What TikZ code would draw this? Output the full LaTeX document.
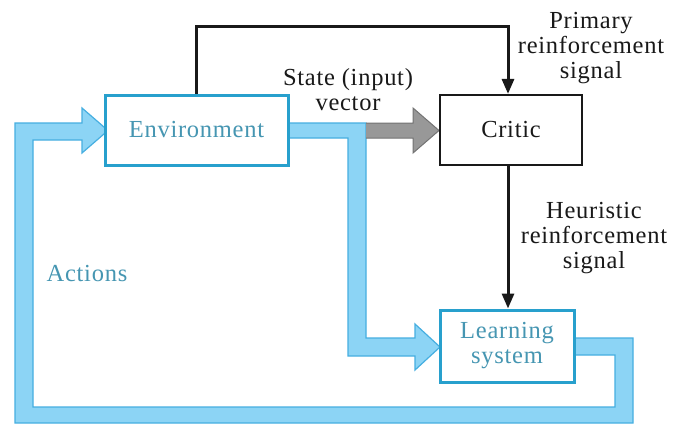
\documentclass[tikz,border=0pt]{standalone}
\usepackage{fontspec}
\setmainfont{Liberation Serif}[LetterSpace=3]
\usetikzlibrary{arrows.meta}
\definecolor{bandfill}{RGB}{140,212,245}
\definecolor{bandline}{RGB}{70,175,225}
\definecolor{boxline}{RGB}{40,160,205}
\definecolor{labelblue}{RGB}{70,150,178}
\definecolor{grayfill}{RGB}{152,152,152}
\definecolor{grayline}{RGB}{115,115,115}
\definecolor{inkblack}{RGB}{25,25,25}
\tikzset{
  txt/.style={font=\fontsize{24.5}{25}\selectfont, inner sep=0pt, align=center},
  bluebox/.style={draw=boxline, line width=3pt, fill=white, txt, text=labelblue},
  blackbox/.style={draw=inkblack, line width=2.2pt, fill=white, txt, text=inkblack},
  band/.style={fill=bandfill, draw=bandline, line width=1.2pt, line join=miter},
  grayband/.style={fill=grayfill, draw=grayline, line width=1pt, line join=miter},
  sig/.style={draw=inkblack, line width=3pt, -{Triangle[width=12pt,length=15pt]}},
}
\begin{document}
\begin{tikzpicture}[x=1pt,y=-1pt]
\useasboundingbox (0,0) rectangle (674,423);
\fill[white] (0,0) rectangle (674,423);

% action loop: learning system back to the environment
\path[band] (574,338) -- (633,338) -- (633,423) -- (15,423) -- (15,123)
  -- (82,123) -- (82,108) -- (108,130.5) -- (82,153) -- (82,140)
  -- (33,140) -- (33,407) -- (615,407) -- (615,355) -- (574,355) -- cycle;

% state vector fed to the learning system
\path[band] (288,123) -- (366,123) -- (366,338) -- (415,338) -- (415,324)
  -- (440,347) -- (415,370) -- (415,356) -- (348,356) -- (348,138)
  -- (288,138) -- cycle;

% state vector fed to the critic
\path[grayband] (366,123) -- (413,123) -- (413,108) -- (439,130.5)
  -- (413,153) -- (413,138) -- (366,138);
\fill[grayfill] (366.6,123.6) rectangle (370,137.4);

% blocks
\node[bluebox, minimum width=183pt, minimum height=70pt] (env) at (196.5,130) {Environment};
\node[blackbox, minimum width=142pt, minimum height=70pt] (crit) at (511,130) {Critic};
\node[bluebox, minimum width=134pt, minimum height=72pt] (learn) at (507,346) {Learning\\system};

% reinforcement signals
\draw[sig] (env.north) -- ++(0,-67) -| ([xshift=-3pt]crit.north);
\draw[sig] ([xshift=-3pt]crit.south) -- ([xshift=-3pt]crit.south |- learn.north);

% labels
\node[txt, text=inkblack] (prim) at (591,48) {Primary\\reinforcement\\signal};
\node[txt, text=inkblack] (heur) at (594,238) {Heuristic\\reinforcement\\signal};
\node[txt, text=inkblack] (state) at (348,90) {State (input)\\vector};
\node[txt, text=labelblue] (act) at (87,274) {Actions};
\end{tikzpicture}
\end{document}
